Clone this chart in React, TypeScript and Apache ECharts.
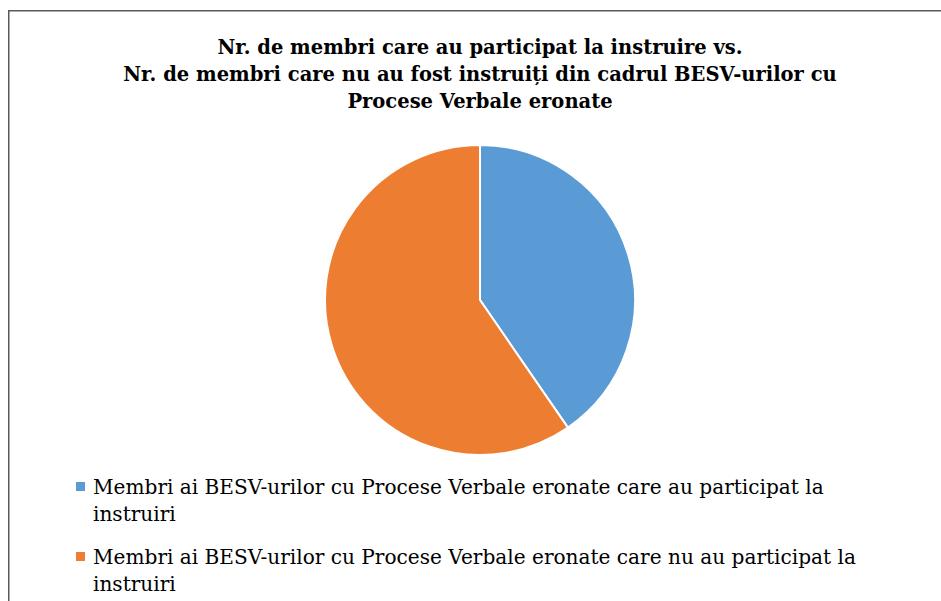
import React, { useEffect, useRef } from "react";
import * as echarts from "echarts";

// ---- data ----
const titleLines = [
  "Nr. de membri care au participat la instruire vs.",
  "Nr. de membri care nu au fost instruiți din cadrul BESV-urilor cu",
  "Procese Verbale eronate",
];
const categories = [
  "Membri ai BESV-urilor cu Procese Verbale eronate care au participat la instruiri",
  "Membri ai BESV-urilor cu Procese Verbale eronate care nu au participat la instruiri",
];
const values = [40.4, 59.6];
const colors = ["#5B9BD5", "#ED7D31"];

const FONT = '"DejaVu Serif", "Liberation Serif", serif';

function fitSize(text: string, weight: string, target: number): number {
  const ctx = document.createElement("canvas").getContext("2d");
  if (!ctx) return 20;
  ctx.font = `${weight} 100px ${FONT}`;
  const w = ctx.measureText(text).width;
  return (100 * target) / w;
}

export default function App() {
  const ref = useRef<HTMLDivElement>(null);
  useEffect(() => {
    if (!ref.current) return;
    const chart = echarts.init(ref.current, undefined, { renderer: "svg" });
    const titleSize = fitSize(titleLines[1], "bold", 714);
    const legendSize = fitSize(
      "Membri ai BESV-urilor cu Procese Verbale eronate care au participat la",
      "normal",
      731
    );
    const legLH = 27.5;
    const sq = 9;
    const iconH = sq + legLH; // square sits at the top, text block centred lower
    const iconPath = `path://M0,0L${sq},0L${sq},${sq}L0,${sq}Z M0,${iconH - 0.01}L0.01,${iconH - 0.01}L0.01,${iconH}Z`;
    const boxOffset = legLH - iconH / 2; // text box extends above icon top by this
    const legendItem = (i: number, squareTop: number) => ({
      show: true,
      orient: "vertical",
      left: 76,
      top: squareTop - boxOffset,
      padding: 0,
      itemWidth: sq,
      itemHeight: iconH,
      icon: iconPath,
      itemStyle: { borderWidth: 0 },
      selectedMode: false,
      data: [categories[i]],
      textStyle: {
        fontFamily: FONT,
        fontSize: legendSize,
        lineHeight: legLH,
        color: "#000",
        width: 800,
        overflow: "break",
        padding: [0, 0, 0, 3],
      },
    });
    chart.setOption({
      animation: false,
      title: {
        text: titleLines.join("\n"),
        left: 480,
        top: 34,
        padding: 0,
        textAlign: "center",
        textStyle: {
          fontFamily: FONT,
          fontWeight: "bold",
          fontSize: titleSize,
          lineHeight: 27,
          color: "#000",
        },
      },
      legend: [legendItem(0, 482), legendItem(1, 552)],
      graphic: [
        {
          type: "rect",
          silent: true,
          z: -1,
          shape: { x: 8.75, y: 10.75, width: 1200, height: 1200 },
          style: { fill: "none", stroke: "#595959", lineWidth: 1.5 },
        },
      ],
      series: [
        {
          type: "pie",
          center: [480, 300],
          radius: 155,
          startAngle: 90,
          clockwise: true,
          silent: true,
          label: { show: false },
          labelLine: { show: false },
          itemStyle: { borderColor: "#fff", borderWidth: 2 },
          data: categories.map((name, i) => ({
            name,
            value: values[i],
            itemStyle: { color: colors[i] },
          })),
        },
      ],
    });
    return () => chart.dispose();
  }, []);
  return (
    <div
      ref={ref}
      style={{ position: "absolute", left: 0, top: 0, width: 941, height: 601, background: "#fff" }}
    />
  );
}
